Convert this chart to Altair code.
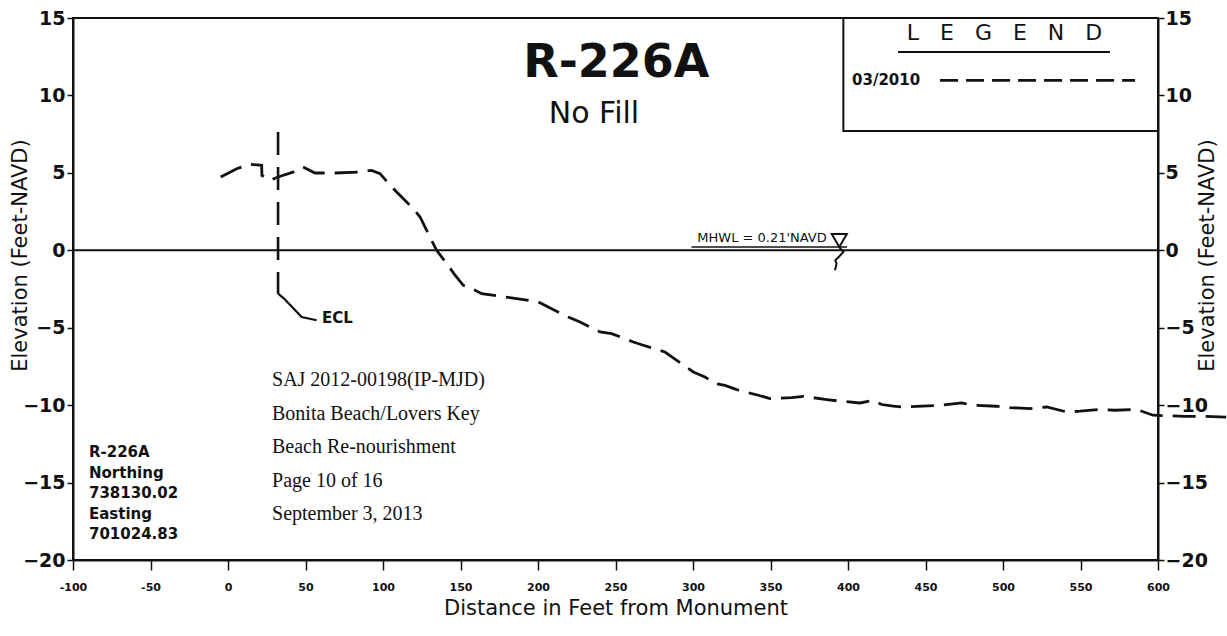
import altair as alt
import pandas as pd

# ---- survey profile, 03/2010 (feet from monument, feet NAVD) ----
profile_dist = [-4.7, 5.6, 14.2, 21.7, 21.9, 27.1, 32.3, 41.9, 48.4, 56.1, 62.6, 69.0,
                85.2, 92.7, 98.1, 103.4, 108.8, 119.5, 123.9, 130.3, 134.6, 141.1, 146.5,
                151.8, 157.2, 163.7, 178.7, 186.3, 200.2, 206.6, 219.5, 227.1, 240.0,
                247.5, 261.5, 267.9, 281.9, 288.4, 300.2, 307.7, 314.2, 320.6, 328.2,
                342.1, 349.7, 363.7, 371.2, 386.3, 393.7, 407.7, 416.3, 421.7, 429.2,
                435.7, 451.8, 459.4, 473.4, 480.6, 495.9, 504.5, 517.4, 528.2, 541.1,
                549.7, 562.6, 572.3, 586.3, 596.8, 617.4, 630.3, 644.0]
profile_elev = [4.73, 5.27, 5.55, 5.49, 4.84, 4.52, 4.73, 5.05, 5.38, 4.99, 4.99, 4.99,
                5.05, 5.16, 4.95, 4.34, 3.76, 2.69, 2.15, 0.86, 0.0, -0.86, -1.61,
                -2.26, -2.47, -2.80, -3.01, -3.12, -3.34, -3.66, -4.31, -4.63, -5.27,
                -5.38, -5.92, -6.13, -6.57, -7.03, -7.86, -8.18, -8.60, -8.72, -9.00,
                -9.36, -9.58, -9.51, -9.43, -9.64, -9.73, -9.86, -9.68, -9.96, -10.07,
                -10.12, -10.05, -10.01, -9.86, -10.01, -10.07, -10.16, -10.22, -10.12, -10.44,
                -10.39, -10.28, -10.33, -10.28, -10.65, -10.72, -10.72, -10.78]

series_name = "03/2010"
profile_title = "R-226A"
profile_subtitle = "No Fill"
mhwl_value = 0.21
mhwl_label = "MHWL = 0.21'NAVD"
ecl_dist = 32.3
ecl_label = "ECL"
monument_lines = ["R-226A", "Northing", "738130.02", "Easting", "701024.83"]
permit_lines = ["SAJ 2012-00198(IP-MJD)", "Bonita Beach/Lovers Key",
                "Beach Re-nourishment", "Page 10 of 16", "September 3, 2013"]
x_ticks = list(range(-100, 601, 50))
y_ticks = list(range(-20, 16, 5))
x_title = "Distance in Feet from Monument"
y_title = "Elevation (Feet-NAVD)"
legend_heading = "LEGEND"

# ---- layout ----
W, H = 1085, 542
PAD = {"left": 73, "top": 18, "right": 69, "bottom": 76}
X_DOMAIN = [-100, 600]
Y_DOMAIN = [-20, 15]
PX_PER_FT = H / (Y_DOMAIN[1] - Y_DOMAIN[0])
INK = "#111111"
SANS = "DejaVu Sans"
SERIF = "Liberation Serif"

XS = alt.Scale(domain=X_DOMAIN, nice=False, zero=False)
YS = alt.Scale(domain=Y_DOMAIN, nice=False, zero=False)


def X(field="x"):
    return alt.X(f"{field}:Q", scale=XS, axis=None)


def Y(field="y"):
    return alt.Y(f"{field}:Q", scale=YS, axis=None)


def text_layer(rows, **style):
    df = pd.DataFrame(rows, columns=["x", "y", "t"])
    base = dict(color=INK, font=SANS)
    base.update(style)
    return alt.Chart(df).mark_text(**base).encode(x=X(), y=Y(), text="t:N")


axis_common = dict(
    domainColor=INK, domainWidth=2, tickColor=INK, tickWidth=1.5,
    labelColor=INK, titleColor=INK, grid=False, labelFlush=False, labelOverlap=False,
)

bottom_axis = alt.Axis(
    orient="bottom", values=x_ticks, tickSize=10, labelPadding=11, labelFont=SANS,
    labelFontSize=11, labelFontWeight="bold", labelExpr="toString(datum.value)",
    title=x_title, titleFont=SANS, titleFontSize=21, titleFontWeight="normal",
    titleY=48, titleBaseline="middle", **axis_common,
)
left_axis = alt.Axis(
    orient="left", values=y_ticks, tickSize=6, labelPadding=2, labelFont=SANS,
    labelFontSize=19, labelFontWeight="bold", title=y_title, titleFont=SANS,
    titleFontSize=21, titleFontWeight="normal", titleAngle=270, titleX=-53, titleY=237,
    titleAlign="center", titleBaseline="middle", **axis_common,
)
right_axis = alt.Axis(
    orient="right", values=y_ticks, tickSize=6, labelPadding=1, labelAlign="left",
    labelFont=SANS, labelFontSize=19, labelFontWeight="bold", title=y_title,
    titleFont=SANS, titleFontSize=21, titleFontWeight="normal", titleAngle=270,
    titleX=49, titleY=237, titleAlign="center", titleBaseline="middle", **axis_common,
)

# survey line (dashed) – carries the bottom and left axes
profile = alt.Chart(pd.DataFrame({"x": profile_dist, "y": profile_elev})).mark_line(
    color=INK, strokeWidth=2.8, strokeDash=[23, 10], clip=False
).encode(
    x=alt.X("x:Q", scale=XS, axis=bottom_axis),
    y=alt.Y("y:Q", scale=YS, axis=left_axis),
)

# zero datum line – carries the right axis
zero_line = alt.Chart(pd.DataFrame({"y": [0]})).mark_rule(
    color=INK, strokeWidth=2
).encode(
    y=alt.Y("y:Q", scale=YS, axis=right_axis),
)

# erosion control line: dashed vertical plus leader hook to its label
ecl_rule = alt.Chart(pd.DataFrame({"x": [ecl_dist], "y": [7.64], "y2": [-2.8]})).mark_rule(
    color=INK, strokeWidth=2.6, strokeDash=[23, 12]
).encode(x=X(), y=Y(), y2="y2:Q")
ecl_hook = alt.Chart(pd.DataFrame({
    "x": [ecl_dist, ecl_dist + 3.7, ecl_dist + 15.2, ecl_dist + 24.9],
    "y": [-2.8, -3.1, -4.31, -4.52],
})).mark_line(color=INK, strokeWidth=2.2).encode(x=X(), y=Y())
ecl_text = text_layer([(ecl_dist + 28.3, -4.4, ecl_label)], fontSize=15,
                      fontWeight="bold", align="left", baseline="middle")

# mean high water line marker
mhwl_x = 394.4
mhwl_underline = alt.Chart(pd.DataFrame({"x": [299.0], "x2": [399.4], "y": [mhwl_value]})).mark_rule(
    color=INK, strokeWidth=1.5
).encode(x=X(), x2="x2:Q", y=Y())
mhwl_text = text_layer([(386.3, mhwl_value + 0.3, mhwl_label)], fontSize=13,
                       align="right", baseline="alphabetic")
mhwl_triangle = alt.Chart(pd.DataFrame({"x": [mhwl_x], "y": [mhwl_value + 6.5 / PX_PER_FT]})).mark_point(
    shape="triangle-down", size=225, filled=False, color=INK, strokeWidth=2, opacity=1
).encode(x=X(), y=Y())
mhwl_squiggle = alt.Chart(pd.DataFrame({
    "i": [0, 1, 2, 3, 4, 5],
    "x": [mhwl_x, mhwl_x + 2.6, mhwl_x - 0.4, mhwl_x - 2.6, mhwl_x - 1.8, mhwl_x - 2.8],
    "y": [mhwl_value, -0.11, -0.43, -0.65, -0.86, -1.29],
})).mark_line(color=INK, strokeWidth=2).encode(x=X(), y=Y(), order="i:Q")

# title
title_main = text_layer([(250.5, 11.17, profile_title)], fontSize=46, fontWeight="bold",
                        align="center", baseline="alphabetic")
title_sub = text_layer([(236.1, 8.2, profile_subtitle)], fontSize=30,
                       align="center", baseline="alphabetic")

# legend box
legend_box = alt.Chart(pd.DataFrame({"x": [397.0], "x2": [600.0], "y": [15.0], "y2": [7.7]})).mark_rect(
    fill="white", stroke=INK, strokeWidth=2
).encode(x=X(), x2="x2:Q", y=Y(), y2="y2:Q")
legend_head = text_layer([(501.0, 14.0, "\u00a0\u00a0\u00a0".join(legend_heading))],
                         fontSize=22, align="center", baseline="middle")
legend_head_rule = alt.Chart(pd.DataFrame({"x": [432.3], "x2": [569.0], "y": [12.8]})).mark_rule(
    color=INK, strokeWidth=2
).encode(x=X(), x2="x2:Q", y=Y())
legend_label = text_layer([(402.6, 10.97, series_name)], fontSize=15, fontWeight="bold",
                          align="left", baseline="middle")
legend_sample = alt.Chart(pd.DataFrame({"x": [459.4], "x2": [585.2], "y": [10.97]})).mark_rule(
    color=INK, strokeWidth=2.6, strokeDash=[18, 8]
).encode(x=X(), x2="x2:Q", y=Y())

# monument block (lower left) and permit stamp
monument_text = text_layer(
    [(-89.7, -13.04 - i * 1.32, t) for i, t in enumerate(monument_lines)],
    fontSize=15, fontWeight="bold", align="left", baseline="middle",
)
permit_text = text_layer(
    [(28.4, -8.39 - i * 2.16, t) for i, t in enumerate(permit_lines)],
    font=SERIF, fontSize=20, align="left", baseline="middle",
)

# axes are resolved per layer so the layers that hide theirs do not switch off the others
chart = alt.layer(
    profile, zero_line, ecl_rule, ecl_hook, ecl_text,
    mhwl_underline, mhwl_text, mhwl_triangle, mhwl_squiggle,
    title_main, title_sub,
    legend_box, legend_head, legend_head_rule, legend_label, legend_sample,
    monument_text, permit_text,
).resolve_axis(x="independent", y="independent").properties(
    width=W, height=H, padding=PAD, background="white",
    autosize=alt.AutoSizeParams(type="none"),
).configure_view(stroke=INK, strokeWidth=2)

chart.save("out.html", embed_options={"renderer": "svg", "actions": False})
